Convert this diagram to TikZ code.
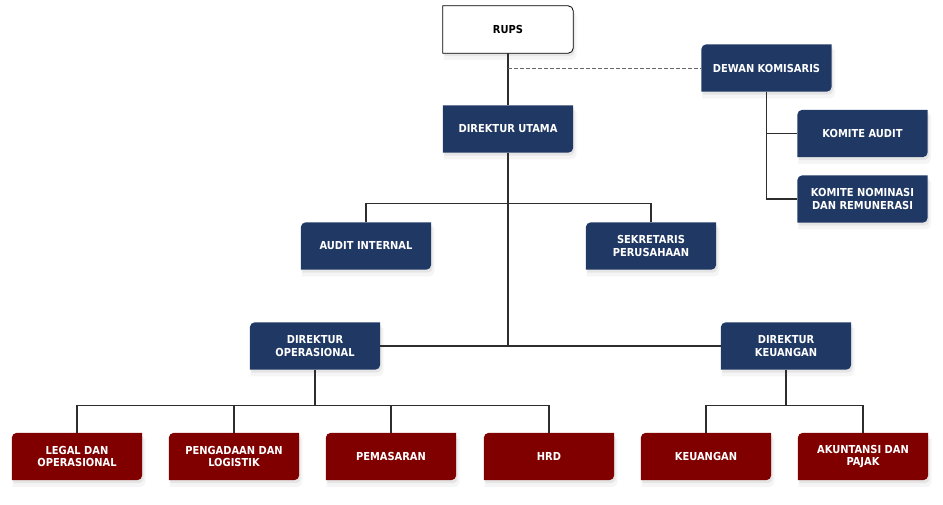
\documentclass[tikz,border=0pt]{standalone}
\usepackage{fontspec}
\setmainfont{DejaVu Sans Condensed}
\usepackage{tikz}
\usetikzlibrary{shadows, backgrounds}
\definecolor{boardBlue}{RGB}{32, 56, 100}
\definecolor{unitRed}{RGB}{128, 0, 0}
\definecolor{lineGray}{RGB}{45, 45, 45}

\begin{document}
\begin{tikzpicture}[
    x = 1pt, y = -1pt,
    unit/.style = {minimum width=130pt, minimum height=47pt, inner sep=0pt,
        align=center, text=white, font=\fontsize{11}{12.5}\selectfont\bfseries},
    link/.style = {draw=lineGray, line width=1.2pt},
    dashlink/.style = {draw=black!60, line width=1pt, dash pattern=on 4pt off 2pt},
    shade/.style = {drop shadow={opacity=0.08, shadow xshift=2pt, shadow yshift=-6pt, shadow scale=1.02},
        drop shadow={opacity=0.14, shadow xshift=1.5pt, shadow yshift=-3pt}}
  ]
  \useasboundingbox (0,0) rectangle (943,504);

  % top
  \node[unit, text=black] (rups) at (508,29.5) {RUPS};
  \node[unit] (dk) at (766.5,68) {DEWAN KOMISARIS};
  \node[unit] (du) at (508,129) {DIREKTUR UTAMA};
  \node[unit] (ka) at (862.5,133.5) {KOMITE AUDIT};
  \node[unit] (kn) at (862.5,199) {KOMITE NOMINASI\\DAN REMUNERASI};

  % staff and directors
  \node[unit] (ai) at (366,246) {AUDIT INTERNAL};
  \node[unit] (sp) at (651,246) {SEKRETARIS\\PERUSAHAAN};
  \node[unit] (dop) at (315,346) {DIREKTUR\\OPERASIONAL};
  \node[unit] (dku) at (786,346) {DIREKTUR\\KEUANGAN};

  % divisions
  \foreach \n/\x/\t in {legal/77/LEGAL DAN\\OPERASIONAL, peng/234/PENGADAAN DAN\\LOGISTIK,
      pem/391/PEMASARAN, hrd/549/HRD, keu/706/KEUANGAN, akt/863/AKUNTANSI DAN\\PAJAK}
  \node[unit] (\n) at (\x,456.5) {\t};

  % connectors
  \draw[link] (rups) -- (du);
  \draw[dashlink] (rups.south |- dk.west) -- (dk.west);
  \draw[link] (dk.south) |- (kn.west);
  \draw[link] (dk.south |- ka.west) -- (ka.west);
  \draw[link] (du.south) -- (du.south |- dop.east);
  \draw[link] (ai.north) -- ++(0,-19) -| (sp.north);
  \draw[link] (dop.east) -- (dku.west);
  \draw[link] (dop.south) -- ++(0,36) coordinate (opbus);
  \draw[link] (dku.south) -- ++(0,36) coordinate (keubus);
  \foreach \n in {legal, peng, pem, hrd}
  \draw[link] (opbus) -| (\n.north);
  \foreach \n in {keu, akt}
  \draw[link] (keubus) -| (\n.north);

  \begin{scope}[on background layer]
    \fill[white, draw=black, line width=0.8pt, shade]
      (rups.south west) -- (rups.north west) -- ([xshift=-5pt]rups.north east)
      arc[start angle=90, end angle=0, radius=5pt] -- ([yshift=5pt]rups.south east)
      arc[start angle=0, end angle=-90, radius=5pt] -- cycle;
    \fill[boardBlue, shade]
      (du.south west) -- (du.north west) -- (du.north east) -- ([yshift=5pt]du.south east)
      arc[start angle=0, end angle=-90, radius=5pt] -- cycle;
    \foreach \n/\c in {dk/boardBlue, ka/boardBlue, kn/boardBlue, ai/boardBlue, sp/boardBlue,
        dop/boardBlue, dku/boardBlue, legal/unitRed, peng/unitRed, pem/unitRed,
        hrd/unitRed, keu/unitRed, akt/unitRed}
    \fill[\c, shade]
      (\n.south west) -- ([yshift=-5pt]\n.north west)
      arc[start angle=180, end angle=90, radius=5pt] -- (\n.north east)
      -- ([yshift=5pt]\n.south east) arc[start angle=0, end angle=-90, radius=5pt] -- cycle;
  \end{scope}
\end{tikzpicture}
\end{document}
